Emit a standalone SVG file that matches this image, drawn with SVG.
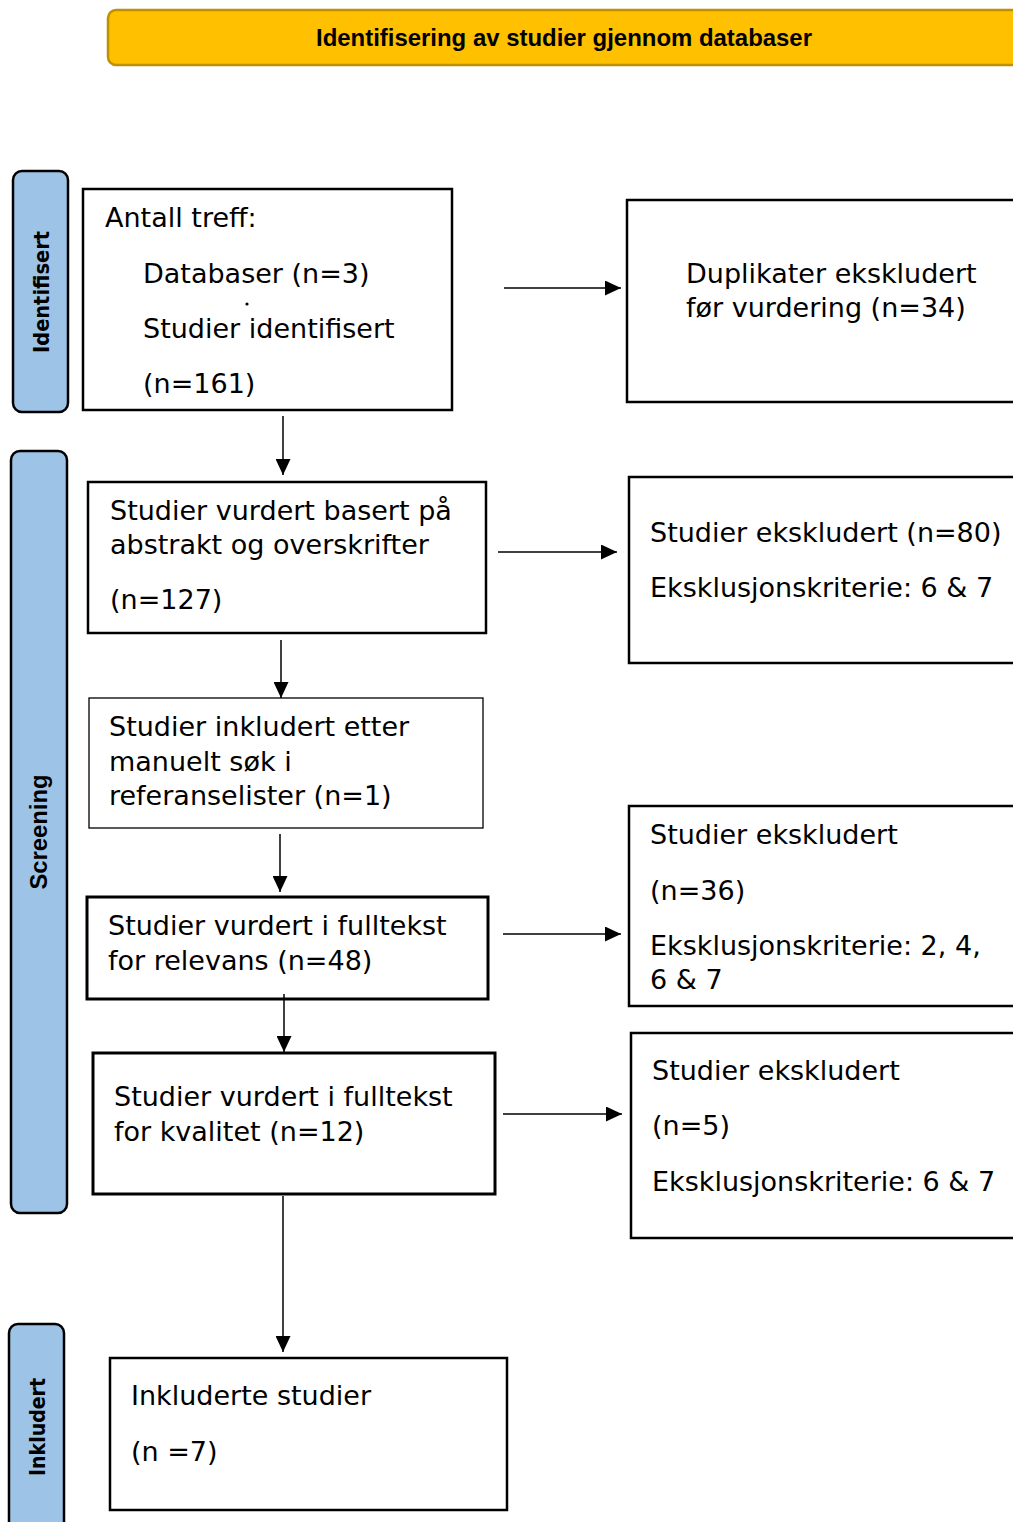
<svg xmlns="http://www.w3.org/2000/svg" width="1013" height="1522" viewBox="0 0 1013 1522">
<style>
  .box { fill: #ffffff; stroke: #000000; stroke-width: 2.5; }
  .thin { stroke-width: 1.3; }
  .thick { stroke-width: 3; }
  .side { fill: #9DC3E6; stroke: #000000; stroke-width: 2.5; }
  .t { font-family: "DejaVu Sans", Verdana, sans-serif; font-size: 27px; fill: #000000; }
  .sideT { font-family: "DejaVu Sans", Verdana, sans-serif; font-weight: bold; font-size: 21px; fill: #000000; text-anchor: middle; }
  .sideA { font-family: "Liberation Sans", Arial, sans-serif; font-weight: bold; font-size: 24px; fill: #000000; text-anchor: middle; }
  .banT { font-family: "Liberation Sans", Arial, sans-serif; font-weight: bold; font-size: 24px; fill: #000000; text-anchor: middle; }
  .conn { stroke: #000000; stroke-width: 1.5; fill: none; }
</style>
<defs>
  <marker id="arr" markerUnits="userSpaceOnUse" markerWidth="16" markerHeight="15" refX="16" refY="7.5" orient="auto">
    <path d="M0,0 L16,7.5 L0,15 Z" fill="#000000"/>
  </marker>
</defs>
<rect width="1013" height="1522" fill="#ffffff"/>

<g id="banner">
  <rect x="108" y="10" width="930" height="55" rx="8" fill="#FFC000" stroke="#BF9000" stroke-width="2.5"/>
  <text class="banT" x="564" y="46" textLength="496" lengthAdjust="spacingAndGlyphs">Identifisering av studier gjennom databaser</text>
</g>

<g id="side-identifisert">
  <rect class="side" x="13" y="171" width="55" height="241" rx="9"/>
  <text class="sideT" transform="translate(48.5,292) rotate(-90)" textLength="122" lengthAdjust="spacingAndGlyphs">Identifisert</text>
</g>
<g id="side-screening">
  <rect class="side" x="11" y="451" width="56" height="762" rx="9"/>
  <text class="sideA" transform="translate(47,832) rotate(-90)" textLength="115" lengthAdjust="spacingAndGlyphs">Screening</text>
</g>
<g id="side-inkludert">
  <rect class="side" x="9" y="1324" width="55" height="230" rx="9"/>
  <text class="sideT" transform="translate(45,1427) rotate(-90)" textLength="98" lengthAdjust="spacingAndGlyphs">Inkludert</text>
</g>

<g id="n-antall">
  <rect class="box" x="83" y="189" width="369" height="221"/>
  <text class="t" x="105" y="227">Antall treff:</text>
  <text class="t" x="143" y="283">Databaser (n=3)</text>
  <circle cx="247" cy="304" r="1.6" fill="#000000"/>
  <text class="t" x="143" y="338">Studier identifisert</text>
  <text class="t" x="143" y="393">(n=161)</text>
</g>

<g id="n-abstrakt">
  <rect class="box" x="88" y="482" width="398" height="151"/>
  <text class="t" x="110" y="520">Studier vurdert basert på</text>
  <text class="t" x="110" y="554">abstrakt og overskrifter</text>
  <text class="t" x="110" y="609">(n=127)</text>
</g>

<g id="n-manuelt">
  <rect class="box thin" x="89" y="698" width="394" height="130"/>
  <text class="t" x="109" y="736">Studier inkludert etter</text>
  <text class="t" x="109" y="771">manuelt søk i</text>
  <text class="t" x="109" y="805">referanselister (n=1)</text>
</g>

<g id="n-relevans">
  <rect class="box thick" x="87" y="897" width="401" height="102"/>
  <text class="t" x="108" y="935">Studier vurdert i fulltekst</text>
  <text class="t" x="108" y="970">for relevans (n=48)</text>
</g>

<g id="n-kvalitet">
  <rect class="box thick" x="93" y="1053" width="402" height="141"/>
  <text class="t" x="114" y="1106">Studier vurdert i fulltekst</text>
  <text class="t" x="114" y="1141">for kvalitet (n=12)</text>
</g>

<g id="n-inkluderte">
  <rect class="box" x="110" y="1358" width="397" height="152"/>
  <text class="t" x="131" y="1405">Inkluderte studier</text>
  <text class="t" x="131" y="1461">(n =7)</text>
</g>

<g id="n-duplikater">
  <rect class="box" x="627" y="200" width="400" height="202"/>
  <text class="t" x="686" y="283">Duplikater ekskludert</text>
  <text class="t" x="686" y="317">før vurdering (n=34)</text>
</g>

<g id="n-eks80">
  <rect class="box" x="629" y="477" width="400" height="186"/>
  <text class="t" x="650" y="542">Studier ekskludert (n=80)</text>
  <text class="t" x="650" y="597">Eksklusjonskriterie: 6 &amp; 7</text>
</g>

<g id="n-eks36">
  <rect class="box" x="629" y="806" width="400" height="200"/>
  <text class="t" x="650" y="844">Studier ekskludert</text>
  <text class="t" x="650" y="900">(n=36)</text>
  <text class="t" x="650" y="955">Eksklusjonskriterie: 2, 4,</text>
  <text class="t" x="650" y="989">6 &amp; 7</text>
</g>

<g id="n-eks5">
  <rect class="box" x="631" y="1033" width="400" height="205"/>
  <text class="t" x="652" y="1080">Studier ekskludert</text>
  <text class="t" x="652" y="1135">(n=5)</text>
  <text class="t" x="652" y="1191">Eksklusjonskriterie: 6 &amp; 7</text>
</g>

<g id="connectors">
  <line class="conn" x1="504" y1="288" x2="621" y2="288" marker-end="url(#arr)"/>
  <line class="conn" x1="498" y1="552" x2="617" y2="552" marker-end="url(#arr)"/>
  <line class="conn" x1="503" y1="934" x2="621" y2="934" marker-end="url(#arr)"/>
  <line class="conn" x1="503" y1="1114" x2="622" y2="1114" marker-end="url(#arr)"/>
  <line class="conn" x1="283" y1="416" x2="283" y2="475" marker-end="url(#arr)"/>
  <line class="conn" x1="281" y1="640" x2="281" y2="698" marker-end="url(#arr)"/>
  <line class="conn" x1="280" y1="834" x2="280" y2="892" marker-end="url(#arr)"/>
  <line class="conn" x1="284" y1="994" x2="284" y2="1052" marker-end="url(#arr)"/>
  <line class="conn" x1="283" y1="1196" x2="283" y2="1352" marker-end="url(#arr)"/>
</g>
</svg>
